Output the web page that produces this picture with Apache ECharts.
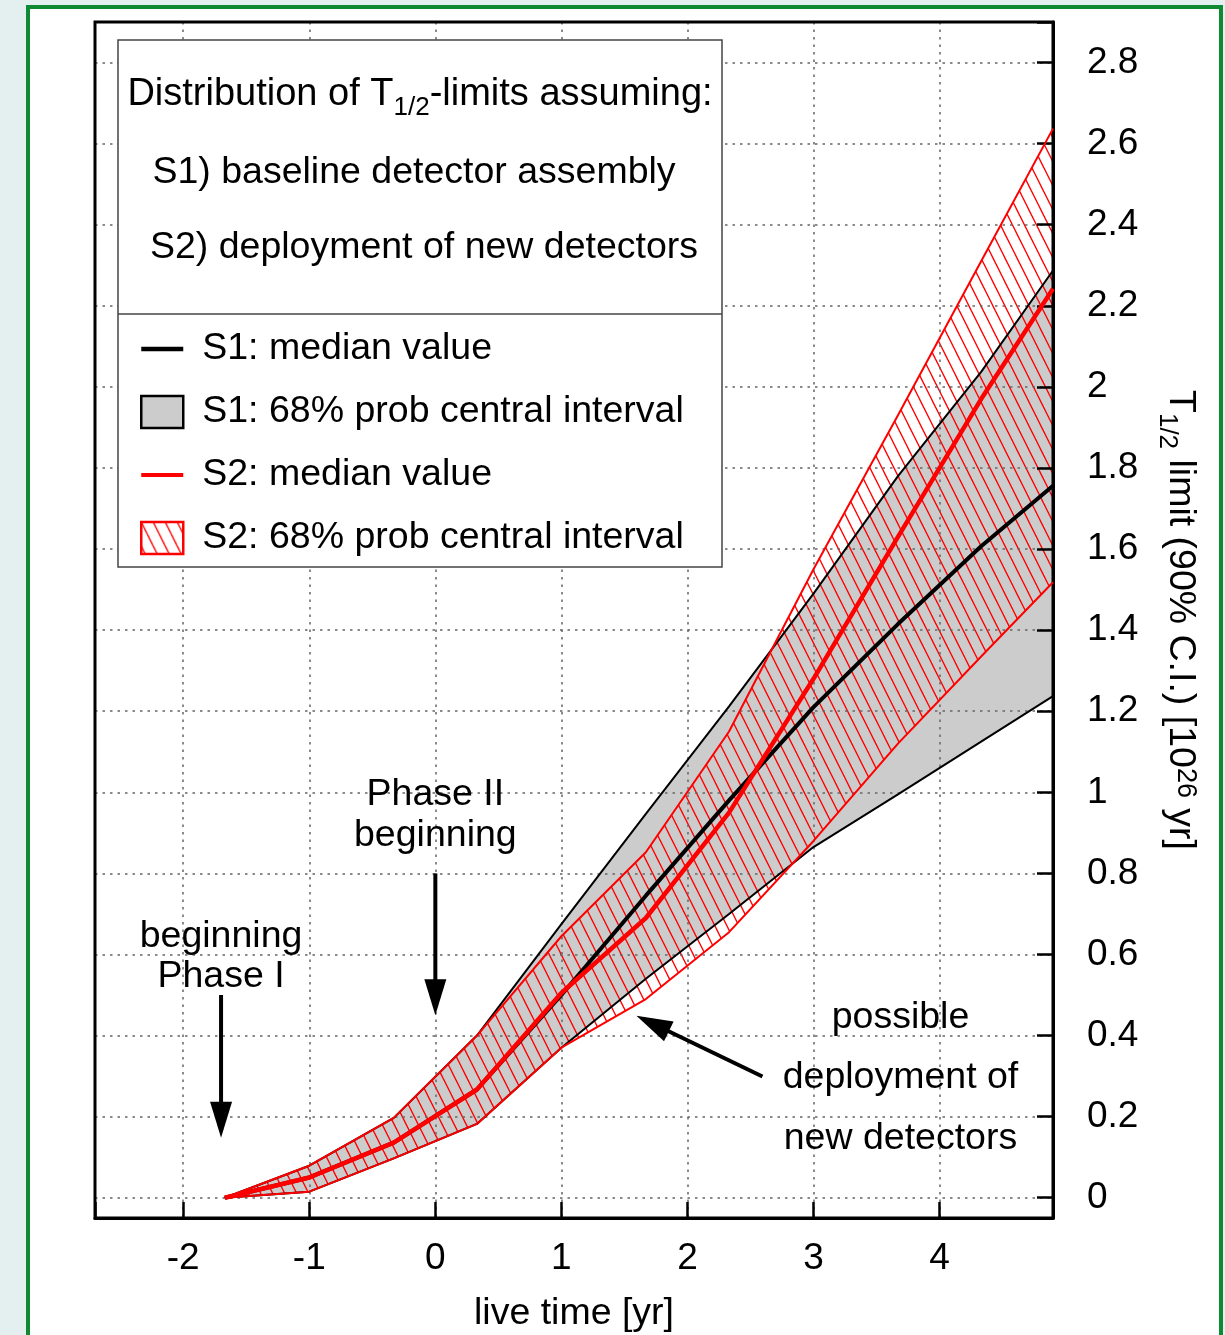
<!DOCTYPE html>
<html>
<head>
<meta charset="utf-8">
<script src="https://cdn.jsdelivr.net/npm/echarts@6/dist/echarts.min.js"></script>
<style>
html,body{margin:0;padding:0;width:1225px;height:1335px;overflow:hidden;background:#e4efef;}
#frame{position:absolute;left:26px;top:5px;width:1189px;height:1340px;border:4px solid #0f8a33;background:#fff;}
#chart{position:absolute;left:0;top:0;width:1225px;height:1335px;}
</style>
</head>
<body>
<div id="frame"></div>
<div id="chart"></div>
<script>
// ---------------- data ----------------
const liveTime = [-1.67, -1.0, -0.33, 0.33, 1.0, 1.67, 2.33, 3.0, 3.67, 4.33, 4.9];
const s1Lower  = [0, 0.015, 0.097, 0.182, 0.370, 0.540, 0.700, 0.865, 0.995, 1.125, 1.237];
const s1Median = [0, 0.050, 0.136, 0.267, 0.500, 0.745, 0.980, 1.210, 1.415, 1.607, 1.756];
const s1Upper  = [0, 0.079, 0.197, 0.400, 0.675, 0.947, 1.212, 1.490, 1.780, 2.037, 2.287];
const s2Lower  = [0, 0.015, 0.097, 0.182, 0.370, 0.490, 0.655, 0.880, 1.120, 1.335, 1.518];
const s2Median = [0, 0.050, 0.136, 0.267, 0.505, 0.690, 0.950, 1.280, 1.630, 1.970, 2.242];
const s2Upper  = [0, 0.079, 0.197, 0.400, 0.645, 0.852, 1.150, 1.550, 1.930, 2.310, 2.637];

const xRange = [-2.7, 4.9];
const yRange = [-0.05, 2.9];
const xStep = 1;
const yStep = 0.2;

const legendNames = ['S1: median value', 'S1: 68% prob central interval', 'S2: median value', 'S2: 68% prob central interval'];
const headerLines = ['S1) baseline detector assembly', 'S2) deployment of new detectors'];

// annotation text anchors (data units)
const annTexts = [
  {text: 'beginning', x: -1.7, y: 0.649},
  {text: 'Phase I', x: -1.7, y: 0.551},
  {text: 'Phase II', x: 0, y: 1.000},
  {text: 'beginning', x: 0, y: 0.899},
  {text: 'possible', x: 3.69, y: 0.449},
  {text: 'deployment of', x: 3.69, y: 0.300},
  {text: 'new detectors', x: 3.69, y: 0.151}
];
// arrows: [fromX, fromY, toX, toY] (data units)
const annArrows = [
  [-1.7, 0.50, -1.7, 0.148],
  [0, 0.80, 0, 0.45],
  [2.595, 0.299, 1.595, 0.449]
];

// ---------------- styling ----------------
const FONT = '"Liberation Sans", Arial, Helvetica, sans-serif';
const FS = 37.5;
const TICKFS = 37;
const RED = '#ff0000';
const GRAY = '#cccccc';

function makeHatch() {
  const c = document.createElement('canvas');
  c.width = 12; c.height = 24;
  const g = c.getContext('2d');
  g.strokeStyle = RED; g.lineWidth = 1.4;
  for (const dx of [-12, 0, 12]) {
    g.beginPath(); g.moveTo(dx - 1, -2); g.lineTo(dx + 13, 26); g.stroke();
  }
  return c;
}
const hatchPattern = {image: makeHatch(), repeat: 'repeat'};

function bandSeries(name, lower, upper, fill, z) {
  return {
    type: 'custom', name: name, z: z, clip: true, silent: true, animation: false,
    data: liveTime.map((x, i) => [x, lower[i], upper[i]]),
    encode: {x: 0, y: [1, 2]},
    itemStyle: {color: typeof fill === 'string' ? fill : RED},
    renderItem: function (params, api) {
      if (params.dataIndex !== 0) return null;
      const pts = [];
      for (let i = 0; i < liveTime.length; i++) pts.push(api.coord([liveTime[i], upper[i]]));
      for (let i = liveTime.length - 1; i >= 0; i--) pts.push(api.coord([liveTime[i], lower[i]]));
      return {type: 'polygon', shape: {points: pts}, style: {fill: fill, stroke: null}};
    }
  };
}
function lineSeries(name, ys, color, width, z) {
  return {
    type: 'line', name: name, z: z, silent: true, animation: false,
    data: liveTime.map((x, i) => [x, ys[i]]),
    symbol: 'none', showSymbol: false,
    lineStyle: {color: color, width: width},
    itemStyle: {color: color},
    emphasis: {disabled: true}
  };
}
const isMult = (v, s) => Math.abs(v / s - Math.round(v / s)) < 1e-6;

const chart = echarts.init(document.getElementById('chart'), null, {renderer: 'canvas'});
const subRich = {
  n: {fontSize: FS, lineHeight: 40, verticalAlign: 'top', fontFamily: FONT, color: '#000'},
  sub: {fontSize: 26, lineHeight: 26, verticalAlign: 'top', padding: [19, 0, 0, 0], fontFamily: FONT, color: '#000'},
  sup: {fontSize: 27, lineHeight: 27, verticalAlign: 'top', padding: [0, 0, 0, 0], fontFamily: FONT, color: '#000'}
};
const hiddenSymbol = {color: 'rgba(0,0,0,0)', borderColor: 'rgba(0,0,0,0)', borderWidth: 0, opacity: 0};

const option = {
  animation: false,
  backgroundColor: 'transparent',
  grid: {left: 95, top: 22, right: 172, bottom: 117, show: true, borderColor: '#000', borderWidth: 3,
         backgroundColor: 'transparent', z: 4, containLabel: false, outerBoundsMode: 'none'},
  xAxis: {
    type: 'value', min: xRange[0], max: xRange[1], minInterval: xStep, maxInterval: xStep, z: 2,
    name: 'live time [yr]', nameLocation: 'middle', nameGap: 77,
    nameTextStyle: {fontSize: FS, color: '#000', fontFamily: FONT},
    axisLine: {show: true, onZero: false, lineStyle: {color: '#000', width: 3}},
    axisTick: {show: true, inside: true, length: 16, lineStyle: {color: '#000', width: 2.5}},
    axisLabel: {fontSize: TICKFS, color: '#000', fontFamily: FONT, margin: 22,
      formatter: v => isMult(v, xStep) && v > xRange[0] && v < xRange[1] ? String(Math.round(v)) : ''},
    splitLine: {show: true, lineStyle: {color: '#666', width: 1.5, type: [2.5, 5]}}
  },
  yAxis: {
    type: 'value', position: 'right', min: yRange[0], max: yRange[1], minInterval: yStep, maxInterval: yStep, z: 2,
    name: '{n|T}{sub|1/2}{n| limit (90% C.I.) [10}{sup|26}{n| yr]}',
    nameLocation: 'middle', nameRotate: -90, nameGap: 106,
    nameTextStyle: {fontSize: FS, color: '#000', fontFamily: FONT, rich: subRich},
    axisLine: {show: true, onZero: false, lineStyle: {color: '#000', width: 3}},
    axisTick: {show: true, inside: true, length: 16, lineStyle: {color: '#000', width: 2.5}},
    axisLabel: {fontSize: TICKFS, color: '#000', fontFamily: FONT, margin: 34, padding: [5, 0, 0, 0],
      formatter: v => isMult(v, yStep) && v > yRange[0] && v < yRange[1] ? String(+v.toFixed(1)) : ''},
    splitLine: {show: true, lineStyle: {color: '#666', width: 1.5, type: [2.5, 5]}}
  },
  legend: {
    orient: 'vertical', left: 139, top: 330, itemWidth: 42, itemHeight: 32, itemGap: 25, z: 12,
    selectedMode: false, padding: 0,
    textStyle: {fontSize: FS, color: '#000', fontFamily: FONT, padding: [0, 0, 0, 14]},
    data: [
      {name: legendNames[0], lineStyle: {color: '#000', width: 4.5}, itemStyle: hiddenSymbol},
      {name: legendNames[1], icon: 'rect', itemStyle: {color: GRAY, borderColor: '#000', borderWidth: 2.5}},
      {name: legendNames[2], lineStyle: {color: RED, width: 4}, itemStyle: hiddenSymbol},
      {name: legendNames[3], icon: 'rect', itemStyle: {color: hatchPattern, borderColor: RED, borderWidth: 2.5}}
    ]
  },
  series: [
    bandSeries(legendNames[1], s1Lower, s1Upper, GRAY, 1),
    bandSeries(legendNames[3], s2Lower, s2Upper, hatchPattern, 1),
    lineSeries('S1 lower', s1Lower, '#000', 2, 3),
    lineSeries('S1 upper', s1Upper, '#000', 2, 3),
    lineSeries(legendNames[0], s1Median, '#000', 4, 3),
    lineSeries('S2 lower', s2Lower, RED, 2, 4),
    lineSeries('S2 upper', s2Upper, RED, 2, 4),
    lineSeries(legendNames[2], s2Median, RED, 4.5, 4)
  ]
};
chart.setOption(option);

// ---------------- legend box, header, annotations ----------------
const px = (x, y) => chart.convertToPixel({gridIndex: 0}, [x, y]);
const graphics = [];
graphics.push({type: 'rect', z: 10, silent: true, shape: {x: 118, y: 40, width: 604, height: 527},
  style: {fill: '#fff', stroke: '#444', lineWidth: 1.5}});
graphics.push({type: 'line', z: 10, silent: true, shape: {x1: 118, y1: 314, x2: 722, y2: 314},
  style: {stroke: '#444', lineWidth: 1.5}});
graphics.push({type: 'text', z: 11, silent: true, style: {
  text: '{n|Distribution of T}{sub|1/2}{n|-limits assuming:}', x: 420, y: 76, align: 'center', verticalAlign: 'top',
  rich: {
    n: {fontSize: 38, lineHeight: 40, verticalAlign: 'top', fontFamily: FONT, fill: '#000'},
    sub: {fontSize: 26, lineHeight: 26, verticalAlign: 'top', padding: [19, 0, 0, 0], fontFamily: FONT, fill: '#000'}
  }}});
graphics.push({type: 'text', z: 11, silent: true, style: {text: headerLines[0], x: 414, y: 173, align: 'center', verticalAlign: 'middle',
  fontSize: FS, fontFamily: FONT, fill: '#000'}});
graphics.push({type: 'text', z: 11, silent: true, style: {text: headerLines[1], x: 424, y: 248, align: 'center', verticalAlign: 'middle',
  fontSize: FS, fontFamily: FONT, fill: '#000'}});

annTexts.forEach(a => {
  const p = px(a.x, a.y);
  graphics.push({type: 'text', z: 11, silent: true, style: {text: a.text, x: p[0], y: p[1] + 2, align: 'center', verticalAlign: 'middle',
    fontSize: FS, fontFamily: FONT, fill: '#000'}});
});
annArrows.forEach(a => {
  const s = px(a[0], a[1]), t = px(a[2], a[3]);
  const dx = t[0] - s[0], dy = t[1] - s[1], len = Math.hypot(dx, dy);
  const ux = dx / len, uy = dy / len, L = 36, W = 11;
  const bx = t[0] - ux * L, by = t[1] - uy * L;
  graphics.push({type: 'line', z: 11, silent: true, shape: {x1: s[0], y1: s[1], x2: bx + ux * 2, y2: by + uy * 2},
    style: {stroke: '#000', lineWidth: 4}});
  graphics.push({type: 'polygon', z: 11, silent: true, shape: {points: [
    [t[0], t[1]], [bx - uy * W, by + ux * W], [bx + uy * W, by - ux * W]]}, style: {fill: '#000'}});
});
chart.setOption({graphic: {elements: graphics}});
</script>
</body>
</html>
